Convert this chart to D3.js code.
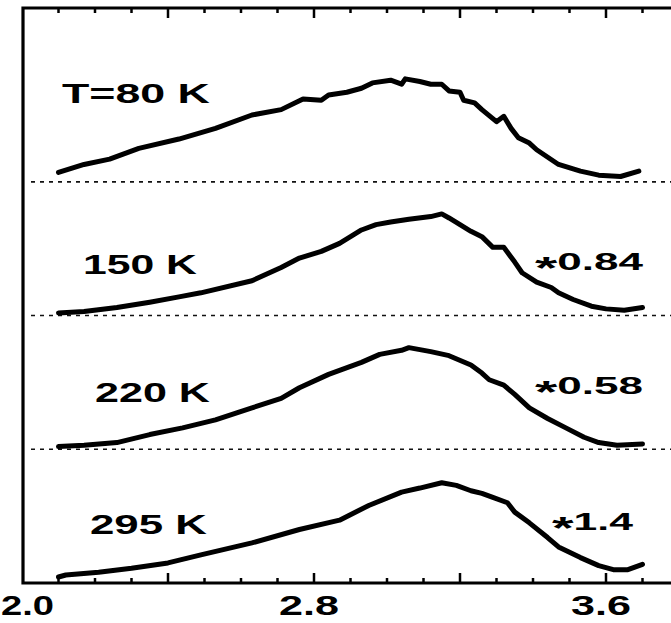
<!DOCTYPE html>
<html><head><meta charset="utf-8">
<script src="https://cdn.jsdelivr.net/npm/d3@7"></script>
<style>html,body{margin:0;padding:0;background:#fff;overflow:hidden}</style>
</head><body><svg id="c" width="671" height="623"></svg>
<script>
// ---- data (photon energy in eV, intensity in panel units) ----
const temperatures = ["T=80 K", "150 K", "220 K", "295 K"];
const factors = ["", "*0.84", "*0.58", "*1.4"];
const offsets = [3, 2, 1, 0];

const e80 = [2.10,2.17,2.24,2.32,2.43,2.53,2.63,2.71,2.77,2.82,2.84,2.89,2.93,2.96,3.01,3.04,3.05,3.09,3.12,3.15,3.17,3.20,3.21,3.24,3.26,3.30,3.32,3.34,3.36,3.39,3.41,3.47,3.53,3.58,3.64,3.69];
const i80 = [0.07,0.13,0.17,0.25,0.32,0.40,0.50,0.54,0.62,0.61,0.65,0.67,0.70,0.74,0.76,0.73,0.77,0.75,0.73,0.73,0.68,0.67,0.61,0.59,0.54,0.45,0.49,0.40,0.33,0.29,0.24,0.13,0.08,0.05,0.04,0.08];

const e150 = [2.10,2.17,2.26,2.35,2.43,2.49,2.63,2.71,2.76,2.82,2.87,2.93,2.97,3.01,3.06,3.12,3.15,3.17,3.20,3.23,3.26,3.29,3.32,3.35,3.37,3.41,3.45,3.47,3.51,3.56,3.60,3.65,3.70];
const i150 = [0.02,0.03,0.06,0.10,0.14,0.17,0.26,0.36,0.43,0.48,0.54,0.64,0.68,0.70,0.72,0.74,0.76,0.73,0.68,0.63,0.59,0.51,0.51,0.40,0.32,0.25,0.21,0.17,0.12,0.07,0.05,0.04,0.06];

const e220 = [2.10,2.17,2.26,2.35,2.44,2.53,2.63,2.71,2.76,2.84,2.93,2.98,3.04,3.06,3.12,3.17,3.23,3.26,3.28,3.32,3.35,3.39,3.44,3.49,3.54,3.58,3.63,3.70];
const i220 = [0.02,0.03,0.05,0.11,0.16,0.22,0.31,0.38,0.46,0.56,0.65,0.71,0.74,0.76,0.73,0.70,0.63,0.57,0.52,0.48,0.41,0.31,0.23,0.16,0.09,0.05,0.03,0.04];

const e295 = [2.10,2.12,2.21,2.30,2.40,2.49,2.63,2.76,2.87,2.95,3.04,3.09,3.15,3.19,3.23,3.26,3.29,3.33,3.35,3.39,3.44,3.47,3.53,3.58,3.62,3.66,3.70];
const i295 = [0.045,0.06,0.08,0.11,0.15,0.21,0.30,0.40,0.47,0.58,0.68,0.71,0.75,0.73,0.69,0.67,0.64,0.60,0.53,0.45,0.34,0.27,0.19,0.13,0.10,0.10,0.14];

const energies = [e80, e150, e220, e295];
const intensities = [i80, i150, i220, i295];

const minorTicks = [2.1,2.2,2.3,2.4,2.5,2.6,2.7,2.8,2.9,3.0,3.1,3.2,3.3,3.4,3.5,3.6,3.7];
const majorTicks = [2.4, 2.8, 3.2, 3.6];
const tickLabels = ["2.0", "2.8", "3.6"];

// ---- layout ----
const svg = d3.select("#c");
const x = d3.scaleLinear().domain([2.0, 3.6]).range([22, 606]);
const y = d3.scaleLinear().domain([0, 4.3]).range([583, 8]);
const xLeft = 23, xRight = 671, yTop = y(4.3), yBottom = y(0);
const FONT = "'Liberation Sans', Arial, Helvetica, sans-serif";

// dashed baselines
svg.append("g").selectAll("line").data(offsets.filter(o => o > 0)).join("line")
  .attr("x1", xLeft + 8).attr("x2", xRight)
  .attr("y1", d => y(d)).attr("y2", d => y(d))
  .attr("stroke", "#111").attr("stroke-width", 1.6)
  .attr("stroke-dasharray", "4,5");

// curves
const line = d3.line().x(d => x(d[0])).y(d => y(d[1]));
svg.append("g").selectAll("path").data(d3.range(4)).join("path")
  .attr("d", k => line(energies[k].map((e, j) => [e, intensities[k][j] + offsets[k]])))
  .attr("fill", "none").attr("stroke", "#000").attr("stroke-width", 5)
  .attr("stroke-linejoin", "round").attr("stroke-linecap", "round");

// frame
const frame = svg.append("g").attr("stroke", "#000").attr("stroke-width", 3.2).attr("fill", "none");
frame.append("path").attr("d", `M${xRight},${yTop}H${xLeft}V${yBottom}H${xRight}`);

// ticks
const tk = svg.append("g").attr("stroke", "#000").attr("stroke-width", 2.5);
minorTicks.forEach(v => {
  const len = majorTicks.some(m => Math.abs(m - v) < 1e-6) ? 10 : 5;
  tk.append("line").attr("x1", x(v)).attr("x2", x(v)).attr("y1", yTop).attr("y2", yTop + len);
  tk.append("line").attr("x1", x(v)).attr("x2", x(v)).attr("y1", yBottom).attr("y2", yBottom - len);
});

// stretched text helper
function stretched(str, x0, x1, base, size, starShift) {
  const t = svg.append("text").attr("font-family", FONT).attr("font-weight", "bold")
    .attr("font-size", size).attr("fill", "#000");
  if (str.startsWith("*")) {
    t.append("tspan").attr("dy", starShift).attr("font-size", size * 1.3).text("*");
    t.append("tspan").attr("dy", -starShift).text(str.slice(1));
  } else {
    t.text(str);
  }
  const w = t.node().getComputedTextLength();
  t.attr("transform", `translate(${x0},${base}) scale(${(x1 - x0) / w},1)`);
  return t;
}

// axis tick labels
const tickVals = tickLabels.map(Number);
tickVals.forEach((v, i) => {
  const cx = x(v) - 5;
  const x0 = Math.max(1, cx - 30);
  stretched(tickLabels[i], x0, x0 + 60 - (x0 - (cx - 30)) * 0.5, 615, 27, 0);
});

// temperature labels
const tempPos = [[62, 210, 103], [83, 197, 274], [95, 210, 402], [90, 207, 534]];
temperatures.forEach((s, i) => stretched(s, tempPos[i][0], tempPos[i][1], tempPos[i][2], 27, 0));

// scale factors
const facPos = [null, [535, 643, 270], [535, 643, 394], [552, 633, 530]];
factors.forEach((s, i) => { if (s) stretched(s, facPos[i][0], facPos[i][1], facPos[i][2], 24, 9); });
</script></body></html>
